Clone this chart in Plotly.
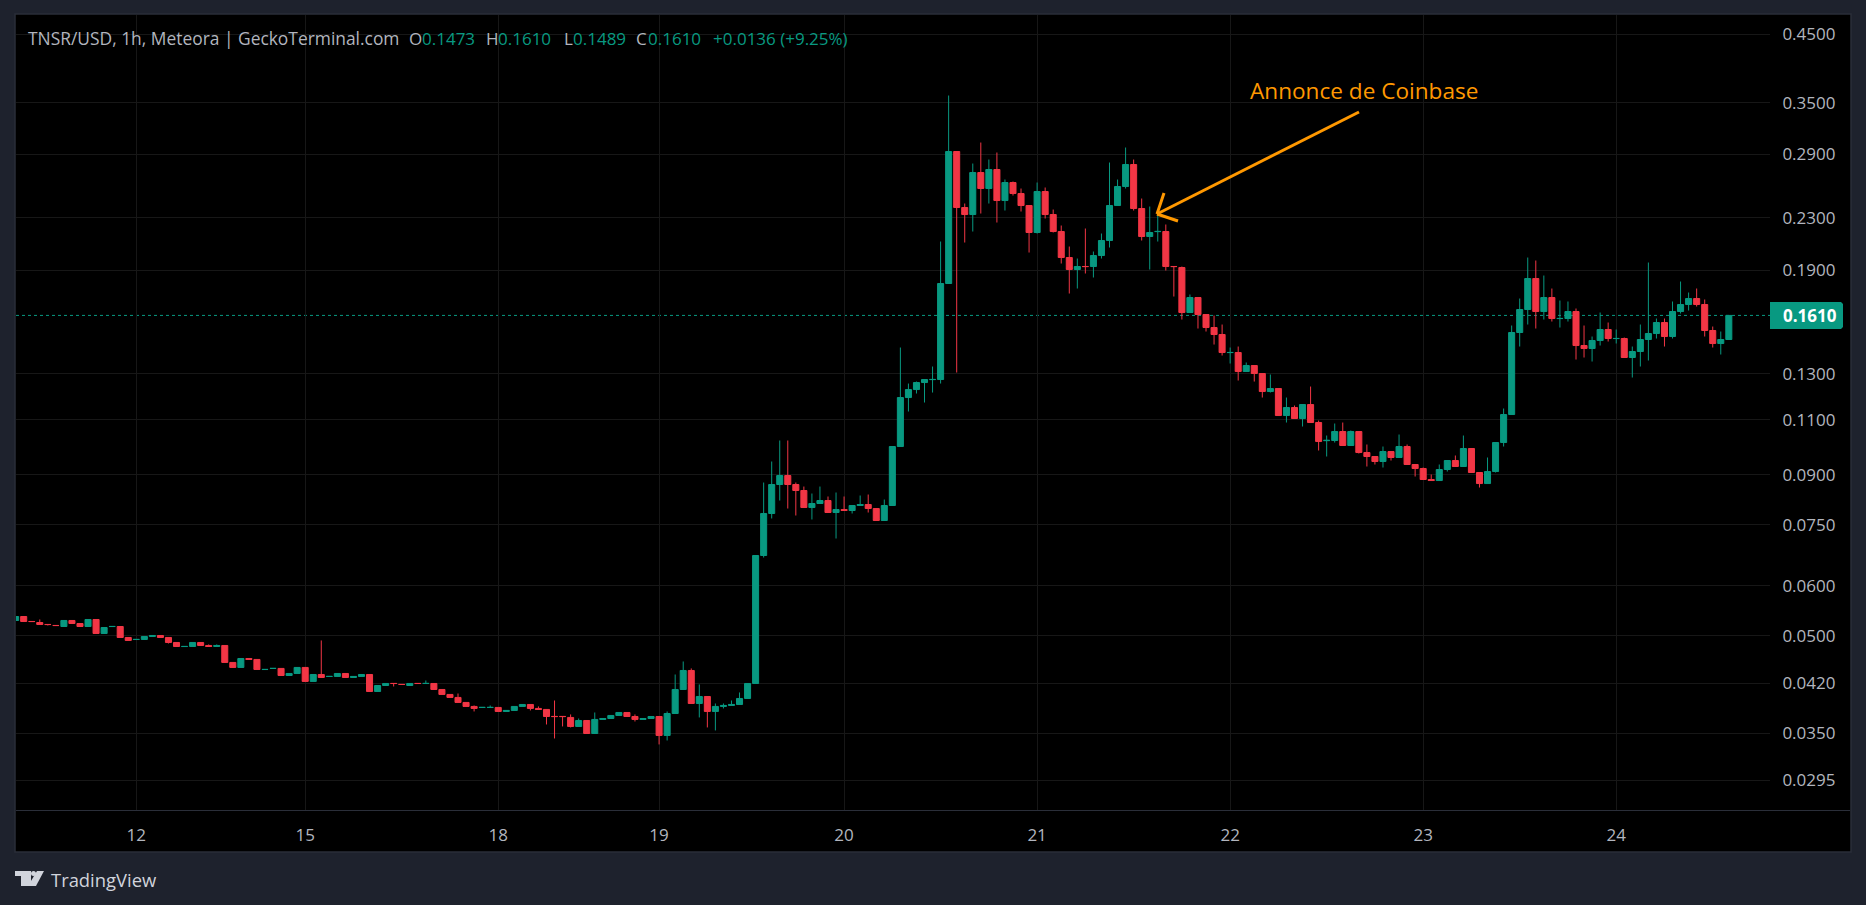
import plotly.graph_objects as go

WIDTH = 1866
HEIGHT = 905
PLOT_L = 16
PLOT_R = 1770
PLOT_T = 15
PLOT_B = 810

FONT = "Open Sans"
UP = "#089981"
DOWN = "#F23645"
GRID = "#171717"
TEXT = "#B2B5BE"
ORANGE = "#FF9800"
FRAME = "#2A2E39"
PAGE = "#1E222D"

open_ = [
    .05284,.05361,.05265,.05245,.05208,.05189,.05169,.05284,.05226,.05169,
    .05303,.05039,.05168,.05169,.04966,.04929,.04930,.04984,.05002,.04966,
    .04876,.04804,.04805,.04876,.04823,.04805,.04823,.04533,.04451,.04599,
    .04583,.04417,.04434,.04435,.04322,.04354,.04451,.04229,.04338,.04306,
    .04307,.04354,.04291,.04307,.04338,.04077,.04167,.04199,.04184,.04167,
    .04199,.04197,.04198,.04107,.04033,.03989,.03917,.03860,.03845,.03845,
    .03846,.03790,.03804,.03860,.03888,.03832,.03818,.03722,.03722,.03708,
    .03588,.03667,.03497,.03681,.03694,.03735,.03776,.03721,.03681,.03694,
    .03721,.03472,.03762,.04107,.04402,.03902,.04003,.03790,.03860,.03874,
    .03888,.03974,.04198,.06699,.07810,.08682,.08972,.08682,.08494,.07982,
    .08100,.08189,.07838,.07925,.07896,.08041,.08070,.07953,.07613,.08041,
    .09974,.11928,.12282,.12600,.12735,.12739,.18090,.29296,.23877,.23274,
    .27133,.25593,.27431,.24495,.26160,.25130,.24052,.21794,.25314,.23274,
    .21873,.19891,.19039,.19252,.19248,.20037,.21166,.24052,.25780,.27937,
    .23790,.21477,.21865,.21873,.19252,.19178,.16271,.17188,.16153,.15404,
    .15016,.14057,.14060,.13117,.13408,.13022,.12193,.12327,.11170,.11501,
    .11048,.11627,.10888,.10190,.10196,.10536,.10011,.10536,.09758,.09617,
    .09443,.09794,.09582,.09974,.09340,.09204,.08842,.08809,.09171,.09477,
    .09272,.09902,.09071,.08713,.09104,.10121,.11211,.15126,.16451,.18423,
    .16331,.17188,.15915,.15919,.16331,.14424,.14267,.14690,.15292,.14795,
    .14798,.13806,.14112,.14744,.15070,.15688,.14906,.16331,.16754,.17125,
    .16754,.15237,.14530,.14744,
]

high = [
    .05361,.05361,.05265,.05303,.05208,.05189,.05284,.05284,.05226,.05303,
    .05303,.05150,.05170,.05169,.04966,.04931,.04984,.05002,.05002,.04966,
    .04876,.04806,.04876,.04876,.04841,.04841,.04823,.04533,.04599,.04599,
    .04583,.04419,.04436,.04435,.04354,.04451,.04451,.04338,.04912,.04308,
    .04354,.04354,.04307,.04338,.04338,.04167,.04198,.04199,.04184,.04198,
    .04199,.04244,.04198,.04107,.04033,.04047,.03917,.03874,.03847,.03874,
    .03846,.03804,.03860,.03888,.03888,.03860,.03818,.03945,.03722,.03749,
    .03694,.03667,.03776,.03694,.03735,.03776,.03776,.03749,.03694,.03721,
    .03721,.03790,.04338,.04549,.04435,.04183,.04003,.03902,.03902,.03945,
    .04062,.04198,.06699,.08745,.09443,.10196,.10196,.08745,.08618,.08401,
    .08618,.08310,.08432,.08310,.08041,.08340,.08370,.07953,.08219,.09974,
    .14319,.12554,.12646,.12739,.13359,.21089,.35944,.29296,.24228,.28039,
    .30275,.28452,.29189,.26448,.26256,.25593,.24052,.26160,.25687,.23703,
    .22358,.20707,.19819,.22114,.20332,.21714,.28142,.26448,.29727,.28452,
    .24675,.23964,.23617,.22440,.19252,.19248,.17377,.17188,.16153,.16094,
    .15574,.14319,.14371,.13556,.13408,.13022,.12974,.12327,.11928,.11585,
    .11627,.12417,.10967,.10383,.10848,.10888,.10574,.10536,.10048,.09617,
    .09974,.09794,.10421,.10048,.09340,.09238,.09005,.09340,.09477,.09652,
    .10383,.09902,.09071,.09582,.10121,.11459,.15517,.17125,.19891,.19674,
    .18626,.17762,.17000,.16939,.16511,.15517,.14906,.16271,.15688,.15292,
    .14852,.14371,.15574,.19532,.15919,.15919,.16939,.18222,.17505,.17762,
    .17063,.15460,.15181,.16100,
]

low = [
    .05284,.05264,.05263,.05207,.05188,.05187,.05169,.05226,.05169,.05169,
    .05039,.05039,.05168,.04966,.04912,.04929,.04930,.04984,.04966,.04858,
    .04805,.04804,.04805,.04823,.04805,.04805,.04533,.04451,.04451,.04583,
    .04418,.04417,.04434,.04322,.04322,.04354,.04229,.04229,.04291,.04306,
    .04307,.04291,.04291,.04307,.04077,.04077,.04167,.04152,.04182,.04167,
    .04197,.04197,.04107,.04033,.03989,.03917,.03860,.03790,.03845,.03845,
    .03790,.03790,.03804,.03860,.03804,.03818,.03614,.03434,.03588,.03575,
    .03588,.03497,.03497,.03681,.03694,.03735,.03721,.03654,.03681,.03694,
    .03360,.03409,.03762,.04107,.03902,.03708,.03575,.03536,.03832,.03874,
    .03888,.03974,.04198,.06650,.07669,.08189,.07953,.07753,.07982,.07641,
    .08100,.07838,.07128,.07896,.07810,.08041,.07838,.07613,.07613,.08041,
    .09974,.11334,.12104,.11713,.12148,.12554,.18090,.13069,.21012,.21873,
    .23359,.24228,.22604,.23617,.24947,.23530,.20258,.21714,.22936,.21794,
    .19461,.17441,.17762,.18763,.18491,.19819,.20632,.24052,.25593,.23617,
    .21166,.19039,.21089,.18969,.17251,.15861,.16271,.15348,.15181,.14477,
    .13907,.13506,.12693,.13117,.12646,.11928,.12148,.11170,.10888,.11048,
    .10730,.10888,.09830,.09617,.10121,.10011,.10011,.09723,.09272,.09340,
    .09238,.09477,.09582,.09340,.08939,.08842,.08809,.08809,.09104,.09272,
    .09272,.09071,.08587,.08713,.09071,.09974,.11211,.14371,.15574,.15348,
    .15861,.15745,.15404,.15745,.13705,.13806,.13605,.14424,.14636,.14530,
    .13806,.12833,.13359,.13655,.14798,.14371,.14798,.16212,.16391,.16632,
    .14906,.14319,.13958,.14744,
]

close = [
    .05361,.05264,.05263,.05207,.05206,.05187,.05284,.05226,.05169,.05303,
    .05039,.05150,.05170,.04966,.04912,.04931,.04984,.05002,.04966,.04876,
    .04805,.04806,.04876,.04823,.04805,.04823,.04533,.04451,.04599,.04583,
    .04418,.04419,.04436,.04322,.04354,.04451,.04229,.04338,.04291,.04308,
    .04354,.04291,.04307,.04338,.04077,.04167,.04198,.04197,.04182,.04198,
    .04197,.04199,.04107,.04033,.03989,.03917,.03860,.03832,.03847,.03847,
    .03790,.03804,.03860,.03888,.03832,.03818,.03721,.03720,.03720,.03588,
    .03667,.03497,.03681,.03694,.03735,.03776,.03721,.03681,.03694,.03721,
    .03472,.03762,.04107,.04402,.03902,.04003,.03790,.03860,.03874,.03888,
    .03974,.04198,.06699,.07810,.08682,.08972,.08682,.08494,.07982,.08100,
    .08189,.07838,.07925,.07896,.08041,.08070,.07953,.07613,.08041,.09974,
    .11928,.12282,.12600,.12739,.12743,.18090,.29296,.23877,.23274,.27133,
    .25593,.27431,.24495,.26160,.25130,.24052,.21794,.25314,.23274,.21873,
    .19891,.19039,.19248,.19244,.20037,.21166,.24052,.25780,.27937,.23790,
    .21477,.21794,.21881,.19248,.19244,.16271,.17188,.16153,.15404,.15016,
    .14060,.14063,.13117,.13408,.13022,.12193,.12327,.11170,.11501,.11048,
    .11627,.10888,.10158,.10202,.10536,.10011,.10536,.09758,.09617,.09443,
    .09794,.09582,.09974,.09340,.09204,.08842,.08809,.09171,.09477,.09272,
    .09902,.09071,.08713,.09104,.10121,.11211,.15126,.16451,.18423,.16331,
    .17188,.15919,.15923,.16331,.14424,.14267,.14690,.15292,.14798,.14801,
    .13806,.14112,.14744,.15070,.15688,.14906,.16331,.16754,.17125,.16754,
    .15237,.14530,.14744,.16100,
]

# the candle index where each day label sits (hours are missing before the 19th)
day_index = [15, 36, 60, 80, 103, 127, 151, 175, 199]
day_labels = ["12", "15", "18", "19", "20", "21", "22", "23", "24"]
price_ticks = [0.45, 0.35, 0.29, 0.23, 0.19, 0.13, 0.11, 0.09, 0.075, 0.06, 0.05, 0.042, 0.035, 0.0295]
price_labels = ["0.4500", "0.3500", "0.2900", "0.2300", "0.1900", "0.1300", "0.1100", "0.0900",
                "0.0750", "0.0600", "0.0500", "0.0420", "0.0350", "0.0295"]
last_price = 0.161

legend_parts = [
    ("TNSR/USD, 1h, Meteora | GeckoTerminal.com", 27, TEXT, 17.4),
    ("O", 408, TEXT, 17), ("0.1473", 421, UP, 17),
    ("H", 485, TEXT, 17), ("0.1610", 497, UP, 17),
    ("L", 563, TEXT, 17), ("0.1489", 572, UP, 17),
    ("C", 635, TEXT, 17), ("0.1610", 647, UP, 17),
    ("+0.0136 (+9.25%)", 712, UP, 17),
]


def px(x):
    return (x - PLOT_L) / (PLOT_R - PLOT_L)


def py(y):
    return (PLOT_B - y) / (PLOT_B - PLOT_T)


def label(text, x, y, color, size, anchor="left", bold=False):
    return dict(text="<b>" + text + "</b>" if bold else text, x=px(x), y=py(y), xref="paper", yref="paper",
                xanchor=anchor, yanchor="middle", showarrow=False, borderpad=0,
                font=dict(family=FONT, size=size, color=color))


def segment(x0, y0, x1, y1, color, width):
    return dict(type="line", xref="paper", yref="paper", x0=px(x0), y0=py(y0), x1=px(x1), y1=py(y1),
                line=dict(color=color, width=width))


def polygon(points, color):
    path = "M " + " L ".join(str(round(px(a), 5)) + "," + str(round(py(b), 5)) for a, b in points) + " Z"
    return dict(type="path", xref="paper", yref="paper", path=path, fillcolor=color, line=dict(width=0))


fig = go.Figure()
fig.add_trace(go.Candlestick(
    x=list(range(len(close))), open=open_, high=high, low=low, close=close,
    increasing=dict(line=dict(color=UP, width=1), fillcolor=UP),
    decreasing=dict(line=dict(color=DOWN, width=1), fillcolor=DOWN),
    whiskerwidth=0, showlegend=False,
))

shapes = [
    dict(type="rect", xref="paper", yref="paper", x0=px(15), y0=py(14), x1=px(1851), y1=py(852),
         fillcolor="#000000", line=dict(color=FRAME, width=1.5), layer="below"),
    segment(16, 810.5, 1850, 810.5, FRAME, 1),
    dict(type="line", xref="paper", yref="y", x0=0, x1=1, y0=last_price, y1=last_price,
         line=dict(color=UP, width=1, dash="dot"), layer="below"),
    polygon([(1770, 302), (1841, 302), (1843, 304), (1843, 327), (1841, 329), (1770, 329)], UP),
    segment(1359, 112, 1157, 214, ORANGE, 3),
    segment(1164, 193, 1157, 214, ORANGE, 3),
    segment(1157, 214, 1178, 221, ORANGE, 3),
    polygon([(15, 871), (31, 871), (31, 886), (21, 886), (21, 876), (15, 876)], "#D1D4DC"),
    polygon([(37, 871), (44, 871), (36, 886), (28, 886)], "#D1D4DC"),
    dict(type="circle", xref="paper", yref="paper", x0=px(31), y0=py(871), x1=px(36), y1=py(876),
         fillcolor="#D1D4DC", line=dict(width=0)),
]

annotations = [label(t, x, 38, c, s) for t, x, c, s in legend_parts]
annotations.append(label("Annonce de Coinbase", 1249, 91, ORANGE, 22.6))
annotations.append(label(f"{last_price:.4f}", 1782, 315.5, "#FFFFFF", 17, bold=True))
annotations.append(label("TradingView", 50, 879, "#D1D4DC", 18.4))

fig.update_layout(
    width=WIDTH, height=HEIGHT, autosize=False,
    margin=dict(l=PLOT_L, r=WIDTH - PLOT_R, t=PLOT_T, b=HEIGHT - PLOT_B),
    paper_bgcolor=PAGE, plot_bgcolor="#000000",
    font=dict(family=FONT, size=17, color=TEXT),
    boxgap=0.25, boxgroupgap=0, dragmode=False, hovermode=False,
    shapes=shapes, annotations=annotations,
)
fig.update_xaxes(
    range=[0.044, 218.12], rangeslider=dict(visible=False),
    tickmode="array", tickvals=day_index, ticktext=day_labels,
    showgrid=True, gridcolor=GRID, gridwidth=1, zeroline=False, showline=False,
    ticks="outside", ticklen=10, tickcolor="#000000", tickfont=dict(family=FONT, size=17, color=TEXT),
)
fig.update_yaxes(
    type="log", side="right", range=[-1.57766, -0.31665],
    tickmode="array", tickvals=price_ticks, ticktext=price_labels,
    showgrid=True, gridcolor=GRID, gridwidth=1, zeroline=False, showline=False,
    ticks="outside", ticklen=8, tickcolor="#000000", tickfont=dict(family=FONT, size=17, color=TEXT),
)

# the page's default body margin would shift the whole picture by 8px
fig.write_html("out.html", config=dict(displayModeBar=False),
               post_script="document.body.style.margin='0';document.body.style.background='" + PAGE + "';")
